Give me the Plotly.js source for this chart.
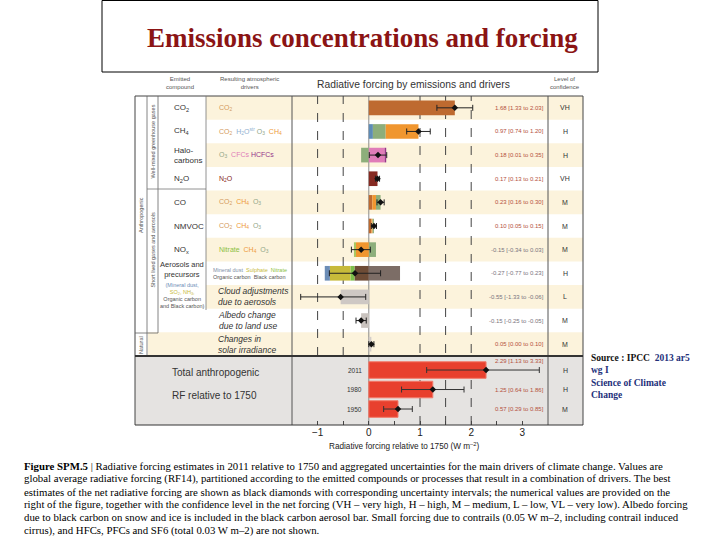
<!DOCTYPE html>
<html><head><meta charset="utf-8">
<script src="https://cdn.plot.ly/plotly-3.0.1.min.js"></script>
<style>html,body{margin:0;padding:0;background:#fff}#chart{width:720px;height:540px}</style>
</head><body><div id="chart"></div>
<script>
// ---------------- DATA ----------------
const rows = ["CO2","CH4","Halocarbons","N2O","CO","NMVOC","NOx","Aerosols","Cloud adjustments","Albedo change","Solar irradiance"];
// stacked components per row, in drawing order: [driver, value]
const segCO2   = [["CO2", 1.68]];
const segCH4   = [["H2Ostr", 0.08], ["O3", 0.25], ["CH4", 0.64]];
const segHalo  = [["O3", -0.15], ["CFCs", 0.31], ["HCFCs", 0.03]];
const segN2O   = [["N2O", 0.17]];
const segCO    = [["CO2", 0.07], ["CH4", 0.07], ["O3", 0.09]];
const segNMVOC = [["CO2", 0.05], ["CH4", 0.02], ["O3", 0.03]];
const segNOx   = [["CH4", -0.25], ["Nitrate", -0.04], ["O3", 0.14]];
const segAer   = [["Organic carbon", -0.28], ["Nitrate aerosol", -0.08], ["Sulphate", -0.40], ["Mineral dust", -0.10], ["Black carbon", 0.61]];
const segCloud = [["Cloud", -0.55]];
const segAlb   = [["Albedo", -0.15]];
const segSolar = [["Solar", 0.05]];
const rowSegments = [segCO2, segCH4, segHalo, segN2O, segCO, segNMVOC, segNOx, segAer, segCloud, segAlb, segSolar];

const bestEst = [1.68, 0.97, 0.18, 0.17, 0.23, 0.10, -0.15, -0.27, -0.55, -0.15, 0.05];
const lowEst  = [1.33, 0.74, 0.01, 0.13, 0.16, 0.05, -0.34, -0.77, -1.33, -0.25, 0.00];
const highEst = [2.03, 1.20, 0.35, 0.21, 0.30, 0.15, 0.03, 0.23, -0.06, -0.05, 0.10];
const confidence = ["VH","H","H","VH","M","M","M","H","L","M","M"];

const years = ["2011","1980","1950"];
const totalRF = [2.29, 1.25, 0.57];
const totalLow = [1.13, 0.64, 0.29];
const totalHigh = [3.33, 1.86, 0.85];
const totalConf = ["H","H","M"];

const xTickVals = [-1, -0.5, 0, 0.5, 1, 1.5, 2, 2.5, 3];
const xTickText = ["\u22121", "", "0", "", "1", "", "2", "", "3"];
const dashTop = [-1, -0.5];
const dashFull = [1, 1.5, 2];

const compoundLabels = ["CO<sub>2</sub>", "CH<sub>4</sub>", "Halo-<br>carbons", "N<sub>2</sub>O", "CO", "NMVOC", "NO<sub>x</sub>"];

// ---------------- STYLE ----------------
const driverColors = {
  "CO2": "#BE6A30", "H2Ostr": "#5E8CB6", "O3": "#8DAE7B", "CH4": "#F0962F",
  "CFCs": "#E07CB8", "HCFCs": "#96358A", "N2O": "#862A22", "Nitrate": "#A8C763",
  "Organic carbon": "#6E4C36", "Nitrate aerosol": "#7CBF4A", "Sulphate": "#C7BA3A",
  "Mineral dust": "#6C8DB6", "Black carbon": "#7C6D66", "Cloud": "#CEC8C4",
  "Albedo": "#C9C3BF", "Solar": "#D3CDC9"
};
const W = 720, H = 540, L = 292, R = 548, T = 96, B = 425;
const px = x => (x - L) / (R - L);
const py = y => 1 - (y - T) / (B - T);
const SANS = "Liberation Sans, Arial, sans-serif";
const SERIF = "Liberation Serif, Times New Roman, serif";
const beige = "#FCF3DC";

// ---------------- TRACES ----------------
const groups = {};
rowSegments.forEach((segs, i) => {
  let pos = 0, neg = 0;
  segs.forEach(([name, v]) => {
    let base;
    if (v >= 0) { base = pos; pos += v; } else { base = neg; neg += v; }
    if (!groups[name]) groups[name] = {y: [], x: [], base: []};
    groups[name].y.push(rows[i]); groups[name].x.push(v); groups[name].base.push(base);
  });
});
const traces = [];
Object.keys(groups).forEach(name => {
  const g = groups[name];
  traces.push({type: "bar", orientation: "h", y: g.y, x: g.x, base: g.base, width: 0.62,
    marker: {color: driverColors[name], line: {width: 0}}, yaxis: "y", xaxis: "x", hoverinfo: "skip", showlegend: false});
});
traces.push({type: "scatter", mode: "markers", x: bestEst, y: rows, yaxis: "y", xaxis: "x",
  marker: {symbol: "diamond", size: 5, color: "#111"},
  error_x: {type: "data", symmetric: false, array: highEst.map((h, i) => h - bestEst[i]),
    arrayminus: lowEst.map((l, i) => bestEst[i] - l), color: "#222", thickness: 1, width: 3},
  hoverinfo: "skip", showlegend: false});
traces.push({type: "bar", orientation: "h", y: years, x: totalRF, width: 0.85, yaxis: "y2", xaxis: "x",
  marker: {color: "#E8402E", line: {color: "#F27A6A", width: 1}}, hoverinfo: "skip", showlegend: false});
traces.push({type: "scatter", mode: "markers", x: totalRF, y: years, yaxis: "y2", xaxis: "x",
  marker: {symbol: "diamond", size: 5, color: "#111"},
  error_x: {type: "data", symmetric: false, array: totalHigh.map((h, i) => h - totalRF[i]),
    arrayminus: totalLow.map((l, i) => totalRF[i] - l), color: "#333", thickness: 1, width: 3},
  hoverinfo: "skip", showlegend: false});

// ---------------- SHAPES ----------------
const shapes = [];
const line = (x0, y0, x1, y1, color, w, dash) => shapes.push({type: "line", xref: "paper", yref: "paper",
  x0: px(x0), y0: py(y0), x1: px(x1), y1: py(y1), line: {color: color, width: w, dash: dash || "solid"}});
rows.forEach((r, i) => {
  if (i % 2 === 0) {
    const x0 = (i === 10) ? 148 : 206;
    shapes.push({type: "rect", xref: "paper", yref: "y", x0: px(x0), x1: px(583), y0: i - 0.5, y1: i + 0.5,
      fillcolor: beige, line: {width: 0}, layer: "below"});
  }
});
shapes.push({type: "rect", xref: "paper", yref: "paper", x0: px(135), x1: px(583), y0: py(425), y1: py(356),
  fillcolor: "#E5E3E1", line: {width: 0}, layer: "below"});
dashTop.forEach(v => shapes.push({type: "line", xref: "x", yref: "paper", x0: v, x1: v, y0: py(356), y1: 1,
  line: {color: "#444", width: 1, dash: "dash"}, layer: "below"}));
dashFull.forEach(v => shapes.push({type: "line", xref: "x", yref: "paper", x0: v, x1: v, y0: 0, y1: 1,
  line: {color: "#444", width: 1, dash: "dash"}, layer: "below"}));
shapes.push({type: "line", xref: "x", yref: "paper", x0: 0, x1: 0, y0: 0, y1: 1, line: {color: "#8A8A8A", width: 1}, layer: "below"});
line(135, 96, 583, 96, "#444", 1);
line(135, 96, 135, 425, "#444", 1);
line(583, 96, 583, 425, "#444", 1);
line(548, 96, 548, 425, "#555", 1);
line(292, 96, 292, 425, "#555", 1);
line(147, 96, 147, 356, "#666", 0.8);
line(158, 96, 158, 333, "#666", 0.8);
line(206, 96, 206, 310, "#777", 0.8);
line(147, 189, 206, 189, "#777", 0.8);
line(135, 333, 158, 333, "#666", 0.8);
line(135, 356, 583, 356, "#333", 2);
line(135, 425, 583, 425, "#333", 1);
shapes.push({type: "rect", xref: "paper", yref: "paper", x0: px(102), x1: px(598), y0: py(72), y1: py(0.5),
  line: {color: "#000", width: 1}, fillcolor: "rgba(0,0,0,0)"});

// ---------------- ANNOTATIONS ----------------
const ann = [];
const txt = (x, y, text, size, color, opts) => ann.push(Object.assign({xref: "paper", yref: "paper", x: px(x), y: py(y),
  text: text, showarrow: false, font: {family: SANS, size: size, color: color}, xanchor: "center", yanchor: "middle"}, opts || {}));

txt(362, 38, "<b>Emissions concentrations and forcing</b>", 27, "#8B1414", {font: {family: SERIF, size: 27, color: "#8B1414"}});
txt(180, 83, "Emitted<br>compound", 6, "#555");
txt(249, 83, "Resulting atmospheric<br>drivers", 6, "#555");
txt(413, 84, "Radiative forcing by emissions and drivers", 10.3, "#333");
txt(565, 83, "Level of<br>confidence", 6, "#555");
txt(141, 215, "Anthropogenic", 5.5, "#555", {textangle: -90});
txt(152.5, 142, "Well-mixed greenhouse gases", 5.5, "#555", {textangle: -90});
txt(152.5, 250, "Short lived gases and aerosols", 5.5, "#555", {textangle: -90});
txt(141, 345, "Natural", 5.5, "#555", {textangle: -90});
compoundLabels.forEach((t, i) => ann.push({xref: "paper", yref: "y", x: px(172), y: i, text: t, showarrow: false,
  xanchor: "left", yanchor: "middle", align: "left", font: {family: SANS, size: 8, color: "#333"}}));
txt(182, 269, "Aerosols and<br>precursors", 7.5, "#333");
txt(182, 295, "<span style='color:#6C8DB6'>(Mineral dust,</span><br><span style='color:#C7BA3A'>SO<sub>2</sub>, NH<sub>3</sub>,</span><br>Organic carbon<br>and Black carbon)", 5.5, "#555");
const sp = (c, t) => "<span style='color:" + c + "'>" + t + "</span>";
const co2c = "#D39A5C", ch4c = "#EE9A3A", o3c = "#93A78A";
const drvLabels = [
  sp(co2c, "CO<sub>2</sub>"),
  sp(co2c, "CO<sub>2</sub>") + "  " + sp("#8FB0D0", "H<sub>2</sub>O<sup>str</sup>") + " " + sp(o3c, "O<sub>3</sub>") + "  " + sp(ch4c, "CH<sub>4</sub>"),
  sp(o3c, "O<sub>3</sub>") + "  " + sp("#E07CB8", "CFCs") + " " + sp("#96358A", "HCFCs"),
  sp("#862A22", "N<sub>2</sub>O"),
  sp(co2c, "CO<sub>2</sub>") + "  " + sp(ch4c, "CH<sub>4</sub>") + "  " + sp(o3c, "O<sub>3</sub>"),
  sp(co2c, "CO<sub>2</sub>") + "  " + sp(ch4c, "CH<sub>4</sub>") + "  " + sp(o3c, "O<sub>3</sub>"),
  sp("#8CBF3F", "Nitrate") + "  " + sp(ch4c, "CH<sub>4</sub>") + "  " + sp(o3c, "O<sub>3</sub>")
];
drvLabels.forEach((t, i) => ann.push({xref: "paper", yref: "y", x: px(217), y: i, text: t, showarrow: false,
  xanchor: "left", yanchor: "middle", font: {family: SANS, size: 7, color: "#555"}}));
ann.push({xref: "paper", yref: "y", x: px(211), y: 7, text:
  sp("#7F8FA8", "Mineral dust") + "  " + sp("#C7BA3A", "Sulphate") + "  " + sp("#8CBF3F", "Nitrate") + "<br>" + sp("#555", "Organic carbon  Black carbon"),
  showarrow: false, xanchor: "left", yanchor: "middle", align: "left", font: {family: SANS, size: 5.5, color: "#555"}});
[[8, "Cloud adjustments<br>due to aerosols"], [9, "Albedo change<br>due to land use"], [10, "Changes in<br>solar irradiance"]].forEach(([i, t]) =>
  ann.push({xref: "paper", yref: "y", x: px(216), y: i, text: "<i>" + t + "</i>", showarrow: false,
    xanchor: "left", yanchor: "middle", align: "left", font: {family: SANS, size: 8.5, color: "#333"}}));
const fmt = v => v.toFixed(2);
rows.forEach((r, i) => {
  ann.push({xref: "x", yref: "y", x: 3.46, y: i, text: fmt(bestEst[i]) + " [" + fmt(lowEst[i]) + " to " + fmt(highEst[i]) + "]",
    showarrow: false, xanchor: "right", yanchor: "middle", font: {family: SANS, size: 6, color: bestEst[i] < 0 ? "#7A7480" : "#B4503E"}});
  ann.push({xref: "paper", yref: "y", x: px(565), y: i, text: confidence[i], showarrow: false, xanchor: "center",
    yanchor: "middle", font: {family: SANS, size: 7, color: "#333"}});
});
years.forEach((yr, i) => {
  ann.push({xref: "x", yref: "y2", x: 3.46, y: i, yshift: i === 0 ? 9 : 0, text: fmt(totalRF[i]) + " [" + fmt(totalLow[i]) + " to " + fmt(totalHigh[i]) + "]",
    showarrow: false, xanchor: "right", yanchor: "middle", font: {family: SANS, size: 6, color: "#B4503E"}});
  ann.push({xref: "paper", yref: "y2", x: px(565), y: i, text: totalConf[i], showarrow: false, xanchor: "center",
    yanchor: "middle", font: {family: SANS, size: 7, color: "#333"}});
  ann.push({xref: "x", yref: "y2", x: -0.1, y: i, text: yr, showarrow: false, xanchor: "right",
    yanchor: "middle", font: {family: SANS, size: 6.5, color: "#333"}});
});
txt(170, 372, "Total anthropogenic", 10, "#333", {xanchor: "left"});
txt(170, 395, "RF relative to 1750", 10, "#333", {xanchor: "left"});
txt(404, 446, "Radiative forcing relative to 1750 (W m<sup>\u20132</sup>)", 8.2, "#222");
txt(589, 376, "<b>Source : IPCC</b>  <b><span style='color:#23307A'>2013 ar5</span></b><br><b><span style='color:#23307A'>wg I</span></b><br><b><span style='color:#23307A'>Science of Climate</span></b><br><b><span style='color:#23307A'>Change</span></b>",
  9.5, "#111", {xanchor: "left", align: "left", font: {family: SERIF, size: 9.5, color: "#111"}});
const caption = [
  "<b>Figure SPM.5</b> | Radiative forcing estimates in 2011 relative to 1750 and aggregated uncertainties for the main drivers of climate change. Values are",
  "global average radiative forcing (RF14), partitioned according to the emitted compounds or processes that result in a combination of drivers. The best",
  "estimates of the net radiative forcing are shown as black diamonds with corresponding uncertainty intervals; the numerical values are provided on the",
  "right of the figure, together with the confidence level in the net forcing (VH \u2013 very high, H \u2013 high, M \u2013 medium, L \u2013 low, VL \u2013 very low). Albedo forcing",
  "due to black carbon on snow and ice is included in the black carbon aerosol bar. Small forcing due to contrails (0.05 W m\u20132, including contrail induced",
  "cirrus), and HFCs, PFCs and SF6 (total 0.03 W m\u20132) are not shown."
];
caption.forEach((c, i) => txt(22, 466 + i * 12.9, c, 10.8, "#000", {xanchor: "left", font: {family: SERIF, size: 10.8, color: "#000"}}));

const layout = {
  width: W, height: H, margin: {l: L, r: W - R, t: T, b: H - B, pad: 0},
  paper_bgcolor: "#fff", plot_bgcolor: "rgba(0,0,0,0)", barmode: "overlay", showlegend: false,
  xaxis: {range: [-1.5, 3.5], anchor: "y2", tickvals: xTickVals, ticktext: xTickText, ticks: "inside", ticklen: 4,
    tickcolor: "#444", showgrid: false, zeroline: false, showline: false, tickfont: {family: SANS, size: 10, color: "#222"}},
  yaxis: {type: "category", categoryarray: rows, range: [10.5, -0.5], domain: [py(356), 1], showticklabels: false,
    showgrid: false, zeroline: false, ticks: ""},
  yaxis2: {type: "category", categoryarray: years, range: [2.82, -0.72], domain: [0, py(356)], showticklabels: false,
    showgrid: false, zeroline: false, ticks: ""},
  shapes: shapes, annotations: ann
};
Plotly.newPlot("chart", traces, layout, {staticPlot: true, displayModeBar: false});
</script></body></html>
